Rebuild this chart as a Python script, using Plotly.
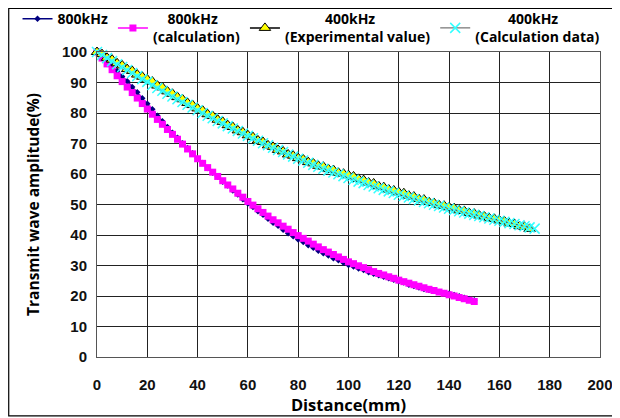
import plotly.graph_objects as go

# ---- data ----
x800 = list(range(0, 151, 2))
exp800 = [100, 98.6, 96.9, 95.3, 93.8, 92.0, 90.4, 88.5, 86.8, 84.8, 83.0, 81.2, 79.1, 77.3, 75.4,
          73.5, 71.9, 70.1, 68.5, 66.8, 65.0, 63.6, 62.0, 60.4, 59.1, 57.5, 56.2, 54.6, 53.3, 51.7,
          50.3, 49.2, 47.8, 46.6, 45.3, 44.0, 43.0, 41.7, 40.6, 39.6, 38.5, 37.7, 36.6, 35.8, 34.8,
          34.0, 33.3, 32.4, 31.7, 30.9, 30.2, 29.7, 29.0, 28.5, 27.8, 27.3, 26.8, 26.3, 25.8, 25.3,
          24.8, 24.4, 23.7, 23.3, 22.8, 22.3, 22.0, 21.6, 21.3, 21.0, 20.8, 20.3, 19.9, 19.4, 19.0, 18.6]
calc800 = [100, 98.0, 96.1, 94.2, 92.2, 90.3, 88.5, 86.7, 84.9, 83.1, 81.3, 79.6, 77.9, 76.3, 74.6,
           73.0, 71.4, 69.8, 68.2, 66.6, 65.0, 63.5, 62.1, 60.6, 59.2, 57.8, 56.4, 55.1, 53.7, 52.4,
           51.0, 49.8, 48.6, 47.4, 46.2, 45.0, 44.0, 42.9, 41.9, 40.8, 39.8, 38.9, 38.0, 37.0, 36.1,
           35.2, 34.4, 33.6, 32.8, 32.0, 31.2, 30.6, 29.9, 29.3, 28.6, 28.0, 27.4, 26.9, 26.3, 25.8,
           25.2, 24.7, 24.2, 23.7, 23.2, 22.7, 22.2, 21.8, 21.3, 20.9, 20.4, 20.0, 19.5, 19.1, 18.6, 18.2]

x400e = list(range(0, 173, 2))
exp400 = [100, 99.3, 98.1, 97.5, 96.3, 95.6, 94.4, 93.8, 92.6, 91.9, 91.0, 90.3, 89.0, 88.4, 87.1,
          86.3, 85.2, 84.5, 83.3, 82.6, 81.5, 80.8, 79.6, 79.0, 77.8, 77.1, 76.0, 75.4, 74.3, 73.7,
          72.7, 72.1, 71.0, 70.5, 69.4, 68.9, 67.9, 67.4, 66.4, 66.0, 65.2, 64.8, 63.9, 63.5, 62.7,
          62.4, 61.6, 61.3, 60.4, 60.1, 59.6, 59.2, 58.4, 58.0, 57.2, 56.9, 56.0, 55.7, 54.9, 54.6,
          54.0, 53.7, 52.9, 52.6, 51.8, 51.6, 50.8, 50.5, 49.8, 49.6, 49.1, 48.8, 48.1, 47.9, 47.2,
          47.0, 46.4, 46.1, 45.5, 45.3, 44.8, 44.5, 43.8, 43.6, 42.9, 42.7, 42.0]

x400c = list(range(0, 175, 2))
calc400 = [100, 99.0, 98.0, 97.0, 96.0, 95.1, 94.1, 93.1, 92.1, 91.1, 90.2, 89.2, 88.2, 87.3, 86.3,
           85.4, 84.5, 83.6, 82.7, 81.8, 80.9, 80.0, 79.1, 78.3, 77.4, 76.6, 75.7, 74.9, 74.1, 73.3,
           72.5, 71.7, 70.9, 70.1, 69.4, 68.6, 67.9, 67.2, 66.4, 65.7, 65.0, 64.4, 63.7, 63.0, 62.4,
           61.7, 61.1, 60.5, 59.9, 59.3, 58.7, 58.1, 57.5, 57.0, 56.4, 55.9, 55.3, 54.8, 54.3, 53.8,
           53.2, 52.8, 52.3, 51.8, 51.3, 50.8, 50.4, 49.9, 49.5, 49.0, 48.6, 48.2, 47.8, 47.4, 47.0,
           46.6, 46.2, 45.8, 45.4, 45.0, 44.7, 44.3, 43.9, 43.6, 43.2, 42.9, 42.5, 42.1]

names = ["800kHz", "    800kHz<br>(calculation)", "           400kHz<br>(Experimental value)",
         "         400kHz<br>(Calculation data)"]
x_ticks = list(range(0, 201, 20))
y_ticks = list(range(0, 101, 10))

TICKFONT = "Liberation Sans, Arial, sans-serif"
TEXTFONT = "Open Sans, Liberation Sans, sans-serif"

fig = go.Figure()
fig.add_trace(go.Scatter(x=x800, y=exp800, name=names[0], mode="lines+markers",
                         line=dict(color="#000080", width=1.5),
                         marker=dict(symbol="diamond", size=5, color="#000080"),
                         cliponaxis=False))
fig.add_trace(go.Scatter(x=x800, y=calc800, name=names[1], mode="lines+markers",
                         line=dict(color="#FF00FF", width=1.5),
                         marker=dict(symbol="square", size=7, color="#FF00FF"),
                         cliponaxis=False))
fig.add_trace(go.Scatter(x=x400e, y=exp400, name=names[2], mode="lines+markers",
                         line=dict(color="#000000", width=1.5),
                         marker=dict(symbol="triangle-up", size=10, color="#FFFF00",
                                     line=dict(color="#000000", width=1)),
                         cliponaxis=False))
fig.add_trace(go.Scatter(x=x400c, y=calc400, name=names[3], mode="lines+markers",
                         line=dict(color="#555555", width=1),
                         marker=dict(symbol="x-thin", size=10, color="#33FFFF",
                                     line=dict(color="#33FFFF", width=1.5)),
                         cliponaxis=False))

fig.update_layout(
    width=620, height=418,
    margin=dict(l=89, r=28, t=44, b=69, autoexpand=False),
    paper_bgcolor="white", plot_bgcolor="white",
    font=dict(family=TEXTFONT, color="#000000", size=12),
    legend=dict(orientation="h", x=-0.158, xanchor="left", y=1.16, yanchor="top",
                font=dict(family=TEXTFONT, size=14, weight="bold"),
                bgcolor="rgba(0,0,0,0)", itemwidth=30, tracegroupgap=0,
                valign="middle"),
    xaxis=dict(range=[0, 200], tickvals=x_ticks, ticks="", showgrid=True,
               gridcolor="#222222", gridwidth=1, showline=True, linecolor="#555555",
               linewidth=1, mirror=True, zeroline=False, ticklabelstandoff=14,
               tickfont=dict(family=TICKFONT, size=15, weight="bold", color="#111111"),
               title=dict(text="Distance(mm)", standoff=2,
                          font=dict(family=TEXTFONT, size=16.5, weight="bold"))),
    yaxis=dict(range=[0, 100], tickvals=y_ticks, ticks="", showgrid=True,
               gridcolor="#222222", gridwidth=1, showline=True, linecolor="#555555",
               linewidth=1, mirror=True, zeroline=False, ticklabelstandoff=6,
               tickfont=dict(family=TICKFONT, size=15, weight="bold", color="#111111"),
               title=dict(text="Transmit wave amplitude(%)", standoff=18,
                          font=dict(family=TEXTFONT, size=15.5, weight="bold"))),
    shapes=[dict(type="rect", xref="paper", yref="paper",
                 x0=-0.1755, x1=1.034, y0=-0.193, y1=1.1426,
                 line=dict(color="#000000", width=1.2), fillcolor="rgba(0,0,0,0)",
                 layer="above")],
)

fig.write_html("out.html")
